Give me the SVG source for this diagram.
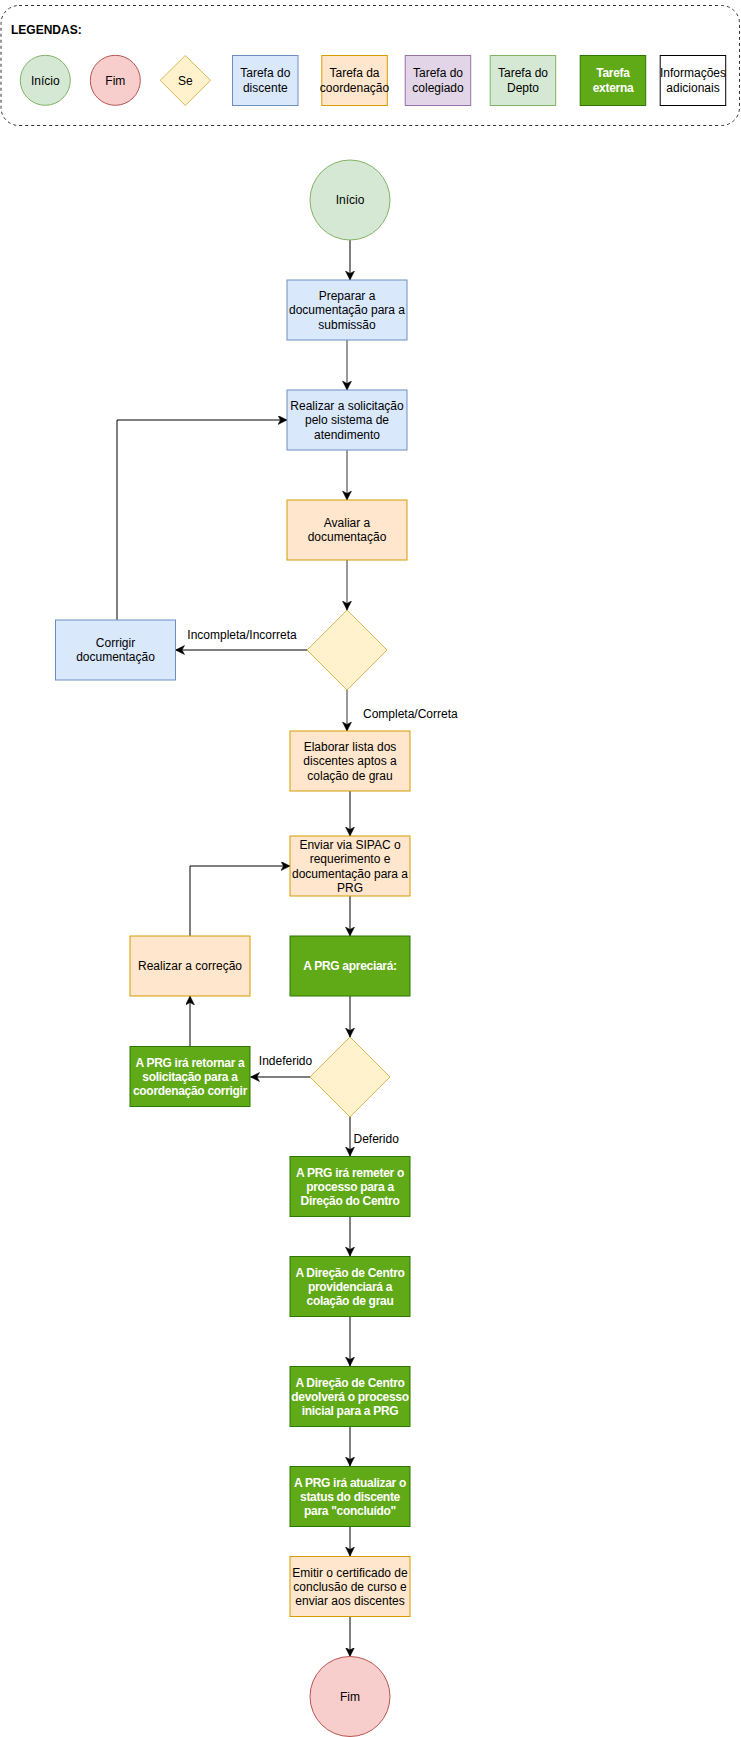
<svg xmlns="http://www.w3.org/2000/svg" width="741" height="1737" viewBox="0 0 741 1737">
<style>
text{font-family:"Liberation Sans",Arial,sans-serif;font-size:12px;fill:#000;text-anchor:middle}
.b{font-weight:bold}
.w{fill:#fff;font-weight:bold;letter-spacing:-0.3px}
.l{text-anchor:start}
.ini{fill:#d5e8d4;stroke:#82b366}
.fim{fill:#f8cecc;stroke:#b85450}
.se{fill:#fff2cc;stroke:#d6b656}
.dis{fill:#dae8fc;stroke:#6c8ebf}
.coo{fill:#ffe6cc;stroke:#d79b00}
.col{fill:#e1d5e7;stroke:#9673a6}
.dep{fill:#d5e8d4;stroke:#82b366}
.ext{fill:#60a917;stroke:#2d7600}
.inf{fill:#fff;stroke:#000}
.e{fill:none;stroke:#000;stroke-width:1;marker-end:url(#ah)}
.g{fill:none;stroke:#777;stroke-width:1.5;marker-end:url(#ah)}
</style>
<defs>
<marker id="ah" markerUnits="userSpaceOnUse" markerWidth="10" markerHeight="10" refX="9" refY="4.5" orient="auto">
<path d="M0,0 L9,4.5 L0,9 L2.5,4.5 Z" fill="#000" stroke="#000" stroke-width="0.5"/>
</marker>
</defs>
<rect width="741" height="1737" fill="#fff"/>

<g id="legend">
<rect x="1" y="5.5" width="738.5" height="120" rx="18" fill="none" stroke="#333" stroke-dasharray="3 3"/>
<text class="b l" x="11" y="34">LEGENDAS:</text>
<circle class="ini" cx="45.3" cy="80.3" r="25"/>
<text x="45.3" y="84.5">Início</text>
<circle class="fim" cx="115.3" cy="80.3" r="25"/>
<text x="115.3" y="84.5">Fim</text>
<path class="se" d="M185.3,55.5 L210.5,80.3 L185.3,105.5 L160.2,80.3 Z"/>
<text x="185.3" y="84.5">Se</text>
<rect class="dis" x="232.5" y="55.5" width="65.5" height="50"/>
<text x="265.3" y="77">Tarefa do</text><text x="265.3" y="91.5">discente</text>
<rect class="coo" x="321.8" y="55.5" width="65.5" height="50"/>
<text x="354.5" y="77">Tarefa da</text><text x="354.5" y="91.5">coordenação</text>
<rect class="col" x="405.2" y="55.5" width="65.5" height="50"/>
<text x="438" y="77">Tarefa do</text><text x="438" y="91.5">colegiado</text>
<rect class="dep" x="490.2" y="55.5" width="65.5" height="50"/>
<text x="523" y="77">Tarefa do</text><text x="523" y="91.5">Depto</text>
<rect class="ext" x="580.2" y="55.5" width="65.5" height="50"/>
<text class="w" x="613" y="77">Tarefa</text><text class="w" x="613" y="91.5">externa</text>
<rect class="inf" x="660.2" y="55.5" width="65.5" height="50"/>
<text x="693" y="77">Informações</text><text x="693" y="91.5">adicionais</text>
</g>

<g id="connectors">
<path class="e" d="M350,240 L350,280"/>
<path class="g" d="M347,340 L347,390"/>
<path class="g" d="M347,450 L347,500"/>
<path class="g" d="M347,560 L347,610"/>
<path class="e" d="M307,650 L175.5,650"/>
<path class="e" d="M117,620 L117,420 L287,420"/>
<path class="g" d="M347,690 L347,731"/>
<path class="e" d="M350,791 L350,836"/>
<path class="e" d="M350,896 L350,936"/>
<path class="e" d="M350,996 L350,1037"/>
<path class="e" d="M310,1077 L250.5,1077"/>
<path class="e" d="M190,1046 L190,996"/>
<path class="e" d="M190,936 L190,866 L290,866"/>
<path class="e" d="M350,1117 L350,1156"/>
<path class="e" d="M350,1216.5 L350,1256"/>
<path class="e" d="M350,1316.5 L350,1366"/>
<path class="e" d="M350,1426.5 L350,1466"/>
<path class="e" d="M350,1526.5 L350,1556"/>
<path class="e" d="M350,1616.5 L350,1656.5"/>
<text x="242" y="638.5">Incompleta/Incorreta</text>
<text class="l" x="363" y="718">Completa/Correta</text>
<text x="285.5" y="1065">Indeferido</text>
<text class="l" x="353.5" y="1142.5">Deferido</text>
</g>

<g id="inicio">
<circle class="ini" cx="350" cy="200" r="40"/>
<text x="350" y="204.3">Início</text>
</g>
<g id="preparar">
<rect class="dis" x="287" y="280" width="120" height="60"/>
<text x="347" y="300">Preparar a</text><text x="347" y="314.4">documentação para a</text><text x="347" y="328.8">submissão</text>
</g>
<g id="realizar">
<rect class="dis" x="287" y="390" width="120" height="60"/>
<text x="347" y="410">Realizar a solicitação</text><text x="347" y="424.4">pelo sistema de</text><text x="347" y="438.8">atendimento</text>
</g>
<g id="avaliar">
<rect class="coo" x="287" y="500" width="120" height="60"/>
<text x="347" y="527">Avaliar a</text><text x="347" y="541.4">documentação</text>
</g>
<g id="decisao1">
<path class="se" d="M347,610 L387,650 L347,690 L307,650 Z"/>
</g>
<g id="corrigir">
<rect class="dis" x="55.5" y="620" width="120" height="60"/>
<text x="115.5" y="647">Corrigir</text><text x="115.5" y="661.4">documentação</text>
</g>
<g id="elaborar">
<rect class="coo" x="290" y="731" width="120" height="60"/>
<text x="350" y="751">Elaborar lista dos</text><text x="350" y="765.4">discentes aptos a</text><text x="350" y="779.8">colação de grau</text>
</g>
<g id="enviar">
<rect class="coo" x="290" y="836" width="120" height="60"/>
<text x="350" y="848.7">Enviar via SIPAC o</text><text x="350" y="863.1">requerimento e</text><text x="350" y="877.5">documentação para a</text><text x="350" y="891.9">PRG</text>
</g>
<g id="apreciara">
<rect class="ext" x="290" y="936" width="120" height="60"/>
<text class="w" x="350" y="970.3">A PRG apreciará:</text>
</g>
<g id="correcao">
<rect class="coo" x="130" y="936" width="120" height="60"/>
<text x="190" y="970.3">Realizar a correção</text>
</g>
<g id="decisao2">
<path class="se" d="M350,1037 L390,1077 L350,1117 L310,1077 Z"/>
</g>
<g id="retornar">
<rect class="ext" x="130" y="1046.5" width="120" height="60"/>
<text class="w" x="190" y="1066.5">A PRG irá retornar a</text><text class="w" x="190" y="1080.9">solicitação para a</text><text class="w" x="190" y="1095.3">coordenação corrigir</text>
</g>
<g id="remeter">
<rect class="ext" x="290" y="1156.5" width="120" height="60"/>
<text class="w" x="350" y="1176.5">A PRG irá remeter o</text><text class="w" x="350" y="1190.9">processo para a</text><text class="w" x="350" y="1205.3">Direção do Centro</text>
</g>
<g id="providenciara">
<rect class="ext" x="290" y="1256.5" width="120" height="60"/>
<text class="w" x="350" y="1276.5">A Direção de Centro</text><text class="w" x="350" y="1290.9">providenciará a</text><text class="w" x="350" y="1305.3">colação de grau</text>
</g>
<g id="devolvera">
<rect class="ext" x="290" y="1366.5" width="120" height="60"/>
<text class="w" x="350" y="1386.5">A Direção de Centro</text><text class="w" x="350" y="1400.9">devolverá o processo</text><text class="w" x="350" y="1415.3">inicial para a PRG</text>
</g>
<g id="atualizar">
<rect class="ext" x="290" y="1466.5" width="120" height="60"/>
<text class="w" x="350" y="1486.5">A PRG irá atualizar o</text><text class="w" x="350" y="1500.9">status do discente</text><text class="w" x="350" y="1515.3">para "concluído"</text>
</g>
<g id="emitir">
<rect class="coo" x="290" y="1556.5" width="120" height="60"/>
<text x="350" y="1576.5">Emitir o certificado de</text><text x="350" y="1590.9">conclusão de curso e</text><text x="350" y="1605.3">enviar aos discentes</text>
</g>
<g id="fim">
<circle class="fim" cx="350" cy="1696.5" r="40"/>
<text x="350" y="1700.8">Fim</text>
</g>
</svg>
